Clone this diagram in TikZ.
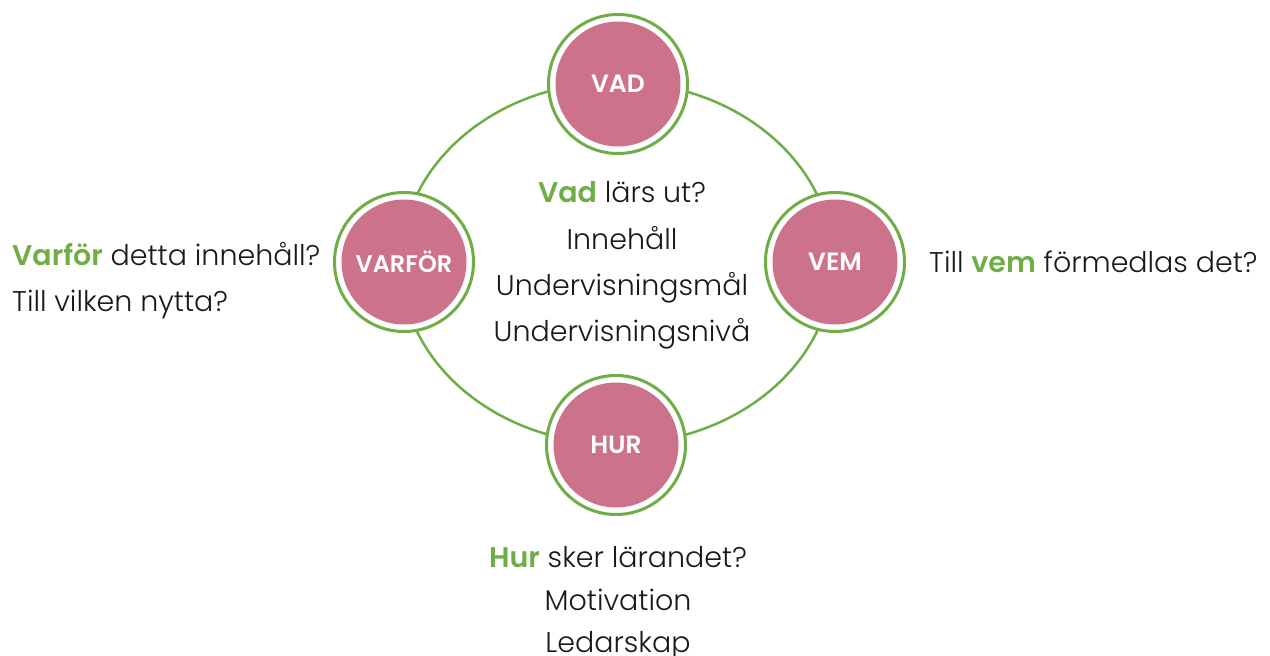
\documentclass[tikz,border=0pt]{standalone}
\usepackage{fontspec}
\setmainfont{Poppins}[UprightFont={* Light}, BoldFont={* SemiBold}]
\definecolor{grn}{RGB}{112,173,71}
\definecolor{pnk}{RGB}{204,114,138}
\definecolor{txt}{RGB}{25,25,25}
\newcommand{\hl}[1]{{\bfseries\color{grn}#1}}
\begin{document}
\begin{tikzpicture}[x=1pt,y=-1pt,
  ring/.style={circle, draw=grn, fill=white, line width=3pt, minimum size=139pt, inner sep=0pt},
  hub/.style={circle, fill=pnk, minimum size=125pt, inner sep=0pt, text=white, font=\fontsize{25}{28}\selectfont\bfseries},
  lbl/.style={anchor=base, inner sep=0pt, text=txt, font=\fontsize{28.5}{32}\selectfont},
  lbll/.style={lbl, anchor=base west}]
\useasboundingbox (0,0) rectangle (1270,656);
\coordinate (c) at (617,263);
\draw[grn, line width=2.5pt] (c) ellipse [x radius=216, y radius=181];
\node[ring] (vadr) at (618,84) {};
\node[hub] (vad) at (618,84) {VAD};
\node[ring] (vemr) at (835,262) {};
\node[hub] (vem) at (835,262) {VEM};
\node[ring] (hurr) at (616,445) {};
\node[hub] (hur) at (616,445) {HUR};
\node[ring] (varr) at (404,262) {};
\node[hub] (var) at (404,262) {\fontsize{24}{28}\selectfont VARFÖR};
\node[lbl] (t1) at (622,202) {\hl{Vad} lärs ut?};
\node[lbl] (t2) at (622,249) {Innehåll};
\node[lbl] (t3) at (622,295) {Undervisningsmål};
\node[lbl] (t4) at (622,341) {Undervisningsnivå};
\node[lbll] (l1) at (12,265) {\hl{Varför} detta innehåll?};
\node[lbll] (l2) at (12,311) {Till vilken nytta?};
\node[lbll] (r1) at (929,272) {Till \hl{vem} förmedlas det?};
\node[lbl] (b1) at (618,567) {\hl{Hur} sker lärandet?};
\node[lbl] (b2) at (618,610) {Motivation};
\node[lbl] (b3) at (618,652) {Ledarskap};
\end{tikzpicture}
\end{document}
